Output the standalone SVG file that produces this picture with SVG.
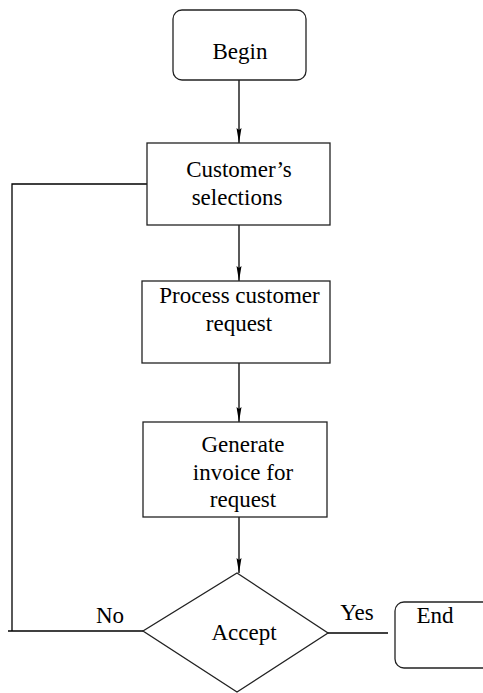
<svg xmlns="http://www.w3.org/2000/svg" width="483" height="693" viewBox="0 0 483 693">
<style>
.box{fill:#fff;stroke:#222;stroke-width:1.3}
.ln{fill:none;stroke:#000;stroke-width:1.3}
.t{font-family:"Liberation Serif","Times New Roman",serif;font-size:23px;fill:#000;text-anchor:middle}
</style>
<defs>
<marker id="ah" markerUnits="userSpaceOnUse" markerWidth="16" markerHeight="6" refX="15" refY="3" orient="auto" viewBox="0 0 16 6">
<path d="M0,0.5 L15,3 L0,5.5 L2,3 Z" fill="#000"/>
</marker>
</defs>
<rect width="483" height="693" fill="#fff"/>
<g id="connectors">
<line class="ln" x1="239" y1="80" x2="239" y2="143" marker-end="url(#ah)"/>
<line class="ln" x1="239" y1="225" x2="239" y2="281" marker-end="url(#ah)"/>
<line class="ln" x1="239" y1="363" x2="239" y2="422" marker-end="url(#ah)"/>
<line class="ln" x1="239" y1="517" x2="239" y2="573" marker-end="url(#ah)"/>
<polyline class="ln" points="147,184 12,184 12,631"/>
<line class="ln" x1="8" y1="631" x2="143" y2="631"/>
<line class="ln" x1="328" y1="633" x2="388" y2="633"/>
<text class="t" x="110" y="623">No</text>
<text class="t" x="357" y="620">Yes</text>
</g>
<g id="begin">
<rect class="box" x="173" y="10" width="133" height="70" rx="9"/>
<text class="t" x="240" y="59">Begin</text>
</g>
<g id="customer">
<rect class="box" x="147" y="143" width="183" height="82"/>
<text class="t" x="239" y="177">Customer’s</text>
<text class="t" x="237" y="205">selections</text>
</g>
<g id="process">
<rect class="box" x="142" y="281" width="188" height="82"/>
<text class="t" x="239.5" y="303">Process customer</text>
<text class="t" x="239" y="331">request</text>
</g>
<g id="generate">
<rect class="box" x="143" y="422" width="184" height="95"/>
<text class="t" x="243" y="452">Generate</text>
<text class="t" x="243" y="480">invoice for</text>
<text class="t" x="243" y="507">request</text>
</g>
<g id="accept">
<polygon class="box" points="237,573 328,633 237,692 143,631"/>
<text class="t" x="244" y="640">Accept</text>
</g>
<g id="end">
<rect class="box" x="395" y="602" width="110" height="66" rx="9"/>
<text class="t" x="435" y="623">End</text>
</g>
</svg>
